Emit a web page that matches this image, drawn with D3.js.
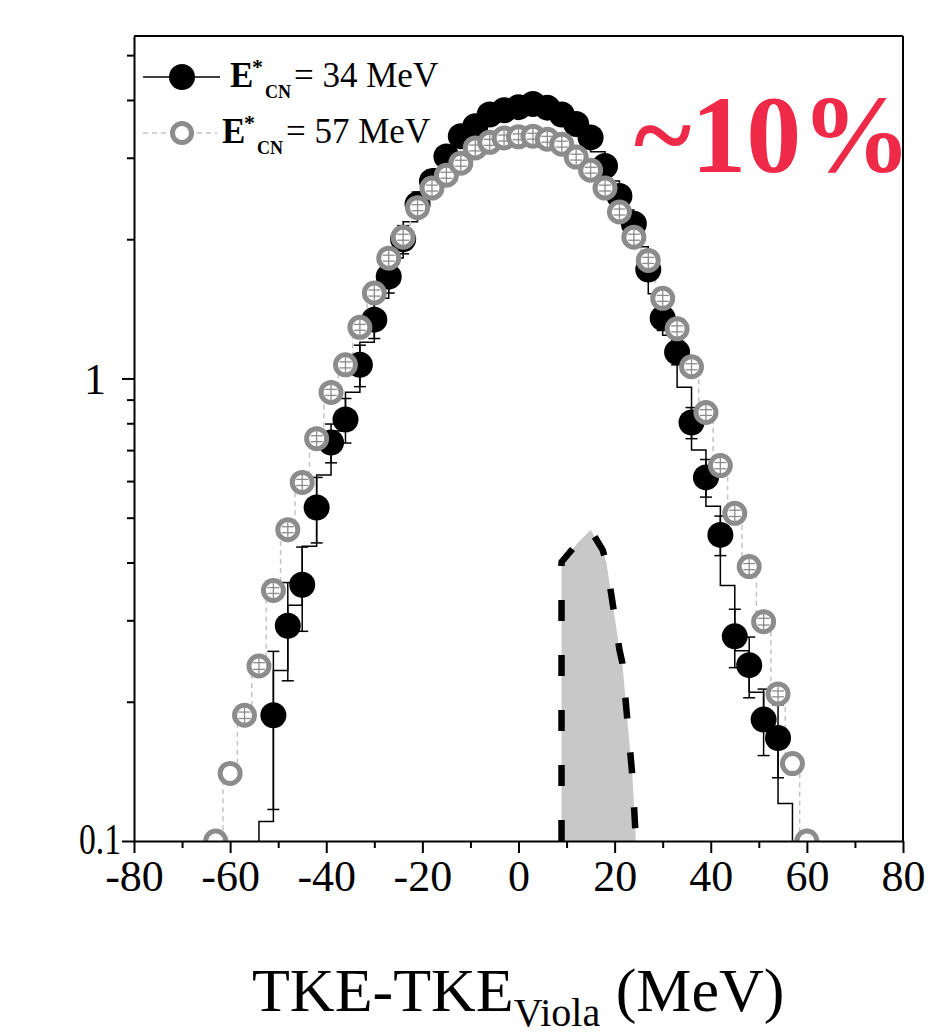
<!DOCTYPE html>
<html><head><meta charset="utf-8">
<script src="https://cdn.jsdelivr.net/npm/d3@7"></script>
<style>body{margin:0;background:#fff} svg{display:block}</style>
</head><body>
<svg id="chart" width="938" height="1036"></svg>
<script>
// ---------- data ----------
const xTicks = [-80, -60, -40, -20, 0, 20, 40, 60, 80];
const xMinorTicks = [-70, -50, -30, -10, 10, 30, 50, 70];
const yTicks = [0.1, 1];
const yMinorTicks = [0.2, 0.3, 0.4, 0.5, 0.6, 0.7, 0.8, 0.9, 2, 3, 4, 5];
const yTickLabels = ["0.1", "1"];

// E*CN = 34 MeV (filled black)
const e34X = [-54,-51,-48,-45,-42,-39,-36,-33,-30,-27,-24,-21,-18,-15,-12,-9,-6,-3,0,3,6,9,12,15,18,21,24,27,30,33,36,39,42,45,48,51,54,57];
const e34Y = [0.065,0.187,0.292,0.358,0.526,0.727,0.815,1.07,1.34,1.66,2.00,2.38,2.67,3.02,3.34,3.51,3.72,3.80,3.86,3.92,3.85,3.72,3.55,3.32,2.88,2.48,2.16,1.72,1.35,1.14,0.803,0.611,0.459,0.277,0.240,0.183,0.167,0.087];
const e34Err = [0,0.07,0.07,0.074,0.085,0.07,0.09,0.11,0.12,0.13,0.14,0.15,0.15,0.16,0.16,0.16,0.17,0.17,0.17,0.17,0.17,0.17,0.16,0.16,0.15,0.12,0.10,0.09,0.08,0.07,0.062,0.057,0.045,0.04,0.036,0.03,0.03,0];

// E*CN = 57 MeV (open grey)
const e57X = [-63,-60,-57,-54,-51,-48,-45,-42,-39,-36,-33,-30,-27,-24,-21,-18,-15,-12,-9,-6,-3,0,3,6,9,12,15,18,21,24,27,30,33,36,39,42,45,48,51,54,57,60];
const e57Y = [0.100,0.140,0.187,0.239,0.348,0.471,0.596,0.741,0.933,1.07,1.29,1.53,1.82,2.02,2.34,2.58,2.75,2.92,3.15,3.24,3.31,3.33,3.34,3.29,3.21,3.01,2.82,2.58,2.29,2.02,1.80,1.49,1.28,1.06,0.844,0.648,0.511,0.392,0.298,0.208,0.147,0.100];
const e57Err = [0,0,0.003,0.004,0.005,0.007,0.009,0.011,0.014,0.016,0.019,0.023,0.027,0.030,0.035,0.038,0.041,0.043,0.046,0.048,0.049,0.049,0.049,0.048,0.047,0.044,0.041,0.038,0.034,0.030,0.027,0.022,0.019,0.016,0.012,0.010,0.008,0.006,0.005,0.003,0,0];

// shaded component (~10%)
const shadeX = [8.95, 8.95, 12.3, 15.0, 17.5, 18.3, 19.8, 21.0, 21.6, 22.7, 23.7, 24.3, 24.4];
const shadeY = [0.1, 0.401, 0.441, 0.470, 0.426, 0.399, 0.316, 0.259, 0.243, 0.180, 0.138, 0.106, 0.1];

const legendValues = ["34 MeV", "57 MeV"];
const annotation = "~10%";
const xTitle = ["TKE-TKE", "Viola", " (MeV)"];

// ---------- layout ----------
const L = 134, R = 903, T = 36, B = 841;
const serif = "'Liberation Serif','Times New Roman',Times,serif";
const svg = d3.select("#chart");
const x = d3.scaleLinear().domain([-80, 80]).range([L, R]);
const y = d3.scaleLog().domain([0.1, 5.5]).range([B, T]);

svg.append("defs").append("clipPath").attr("id", "plotclip")
  .append("rect").attr("x", L).attr("y", T).attr("width", R - L).attr("height", B - T);

const plot = svg.append("g").attr("clip-path", "url(#plotclip)");

// custom "vertical step" curve: vertical at each point, horizontal at the mid level
function curveVStep(context) {
  let px, py, n;
  return {
    areaStart() {}, areaEnd() {},
    lineStart() { n = 0; },
    lineEnd() {},
    point(X, Y) {
      if (n === 0) context.moveTo(X, Y);
      else { const m = (py + Y) / 2; context.lineTo(px, m); context.lineTo(X, m); context.lineTo(X, Y); }
      px = X; py = Y; n++;
    }
  };
}

const d34 = e34X.map((v, i) => ({x: v, y: e34Y[i], e: e34Err[i]}));
const d57 = e57X.map((v, i) => ({x: v, y: e57Y[i], e: e57Err[i]}));
const dShade = shadeX.map((v, i) => ({x: v, y: shadeY[i]}));

// shaded area
plot.append("path")
  .attr("d", d3.line().x(d => x(d.x)).y(d => y(d.y))(dShade) + "Z")
  .attr("fill", "#c8c8c8").attr("stroke", "none");
plot.append("path")
  .attr("d", d3.line().x(d => x(d.x)).y(d => y(d.y))(dShade))
  .attr("fill", "none").attr("stroke", "#000").attr("stroke-width", 6.5)
  .attr("stroke-linejoin", "round")
  .attr("stroke-dasharray", "21 34");

// black step line
plot.append("path")
  .attr("d", d3.line().x(d => x(d.x)).y(d => y(d.y)).curve(curveVStep)(d34))
  .attr("fill", "none").attr("stroke", "#000").attr("stroke-width", 1.5);

// grey dashed step line
plot.append("path")
  .attr("d", d3.line().x(d => x(d.x)).y(d => y(d.y)).curve(d3.curveStep)(d57))
  .attr("fill", "none").attr("stroke", "#c4c4c4").attr("stroke-width", 1.5)
  .attr("stroke-dasharray", "5 4");

// error bars helper
function errBars(g, data, color, capW, sw, stemMin) {
  const sel = g.selectAll(null).data(data.filter(d => d.e > 0)).enter().append("g");
  sel.append("line").attr("x1", d => x(d.x)).attr("x2", d => x(d.x))
    .attr("y1", d => Math.max(y(d.y - d.e), y(d.y) + stemMin))
    .attr("y2", d => Math.min(y(d.y + d.e), y(d.y) - stemMin));
  sel.append("line").attr("x1", d => x(d.x) - capW / 2).attr("x2", d => x(d.x) + capW / 2)
    .attr("y1", d => y(d.y - d.e)).attr("y2", d => y(d.y - d.e));
  sel.append("line").attr("x1", d => x(d.x) - capW / 2).attr("x2", d => x(d.x) + capW / 2)
    .attr("y1", d => y(d.y + d.e)).attr("y2", d => y(d.y + d.e));
  sel.selectAll("line").attr("stroke", color).attr("stroke-width", sw);
}

errBars(plot.append("g"), d34, "#000", 12, 1.5, 0);

plot.append("g").selectAll("circle").data(d34).enter().append("circle")
  .attr("cx", d => x(d.x)).attr("cy", d => y(d.y)).attr("r", 13).attr("fill", "#000");

plot.append("g").selectAll("circle").data(d57).enter().append("circle")
  .attr("cx", d => x(d.x)).attr("cy", d => y(d.y)).attr("r", 10)
  .attr("fill", "#fff").attr("stroke", "#8c8c8c").attr("stroke-width", 5);

errBars(plot.append("g"), d57, "#8c8c8c", 12, 1.3, 7.5);

// ---------- axes ----------
const xAxisG = svg.append("g").attr("transform", `translate(0,${B})`);
xAxisG.call(d3.axisBottom(x).tickValues(xTicks).tickSize(12).tickSizeOuter(0).tickPadding(6).tickFormat(d => String(d)));
const xMinorG = svg.append("g").attr("transform", `translate(0,${B})`);
xMinorG.call(d3.axisBottom(x).tickValues(xMinorTicks).tickSize(7).tickSizeOuter(0).tickFormat(""));
xMinorG.select(".domain").remove();

const yAxisG = svg.append("g").attr("transform", `translate(${L},0)`);
yAxisG.call(d3.axisLeft(y).tickValues(yTicks).tickSize(12).tickSizeOuter(0).tickPadding(14)
  .tickFormat((d, i) => yTickLabels[i]));
const yMinorG = svg.append("g").attr("transform", `translate(${L},0)`);
yMinorG.call(d3.axisLeft(y).tickValues(yMinorTicks).tickSize(7).tickSizeOuter(0).tickFormat(""));
yMinorG.select(".domain").remove();

[xAxisG, xMinorG, yAxisG, yMinorG].forEach(g => {
  g.selectAll("line").attr("stroke", "#000").attr("stroke-width", 2);
  g.selectAll(".domain").attr("stroke", "#000").attr("stroke-width", 2);
  g.selectAll("text").attr("font-family", serif).attr("font-size", 44).attr("fill", "#000");
});
xAxisG.selectAll("text").attr("dy", "0.72em");
yAxisG.selectAll("text").attr("dy", "0.34em");
// y labels: "0.1" sits close to the axis and is narrow, "1" a bit further left
yAxisG.selectAll(".tick text").each(function (d) {
  const t = d3.select(this);
  if (d === 0.1) t.attr("x", -13).attr("dy", "0.28em").attr("textLength", 42).attr("lengthAdjust", "spacingAndGlyphs");
  else t.attr("x", -28);
});

// frame top & right
svg.append("line").attr("x1", L).attr("x2", R).attr("y1", T).attr("y2", T).attr("stroke", "#000").attr("stroke-width", 2);
svg.append("line").attr("x1", R).attr("x2", R).attr("y1", T).attr("y2", B).attr("stroke", "#000").attr("stroke-width", 2);

// x title
const xt = svg.append("text").attr("x", 252).attr("y", 1011).attr("font-family", serif).attr("font-size", 62).attr("fill", "#000");
xt.append("tspan").text(xTitle[0]);
xt.append("tspan").attr("font-size", 40).attr("dy", 15).text(xTitle[1]);
xt.append("tspan").attr("dy", -15).text(xTitle[2]);

// annotation
svg.append("text").attr("x", 634).attr("y", 172).attr("font-family", serif).attr("font-weight", "bold")
  .attr("font-size", 110).attr("fill", "#ee2a48").text(annotation);

// ---------- legend ----------
const rows = [
  {ly: 77, tx: 230, base: 87, kind: "filled"},
  {ly: 133, tx: 222, base: 143, kind: "open"}
];
rows.forEach((r, i) => {
  const g = svg.append("g");
  if (r.kind === "filled") {
    g.append("line").attr("x1", 143).attr("x2", 220).attr("y1", r.ly).attr("y2", r.ly).attr("stroke", "#000").attr("stroke-width", 1.5);
    g.append("circle").attr("cx", 182).attr("cy", r.ly).attr("r", 13).attr("fill", "#000");
  } else {
    g.append("line").attr("x1", 143).attr("x2", 217).attr("y1", r.ly).attr("y2", r.ly).attr("stroke", "#c4c4c4").attr("stroke-width", 1.5).attr("stroke-dasharray", "5 4");
    g.append("circle").attr("cx", 182).attr("cy", r.ly).attr("r", 9.5).attr("fill", "#fff").attr("stroke", "#8c8c8c").attr("stroke-width", 5);
  }
  const t = g.append("text").attr("font-family", serif).attr("fill", "#000");
  t.append("tspan").attr("x", r.tx).attr("y", r.base).attr("font-size", 35).attr("font-weight", "bold").text("E");
  t.append("tspan").attr("x", r.tx + 22).attr("y", r.base - 13).attr("font-size", 22).attr("font-weight", "bold").text("*");
  t.append("tspan").attr("x", r.tx + 35).attr("y", r.base + 11).attr("font-size", 18).attr("font-weight", "bold").text("CN");
  t.append("tspan").attr("x", r.tx + 64).attr("y", r.base).attr("font-size", 35).attr("font-weight", "normal").text("= " + legendValues[i]);
});
</script>
</body></html>
